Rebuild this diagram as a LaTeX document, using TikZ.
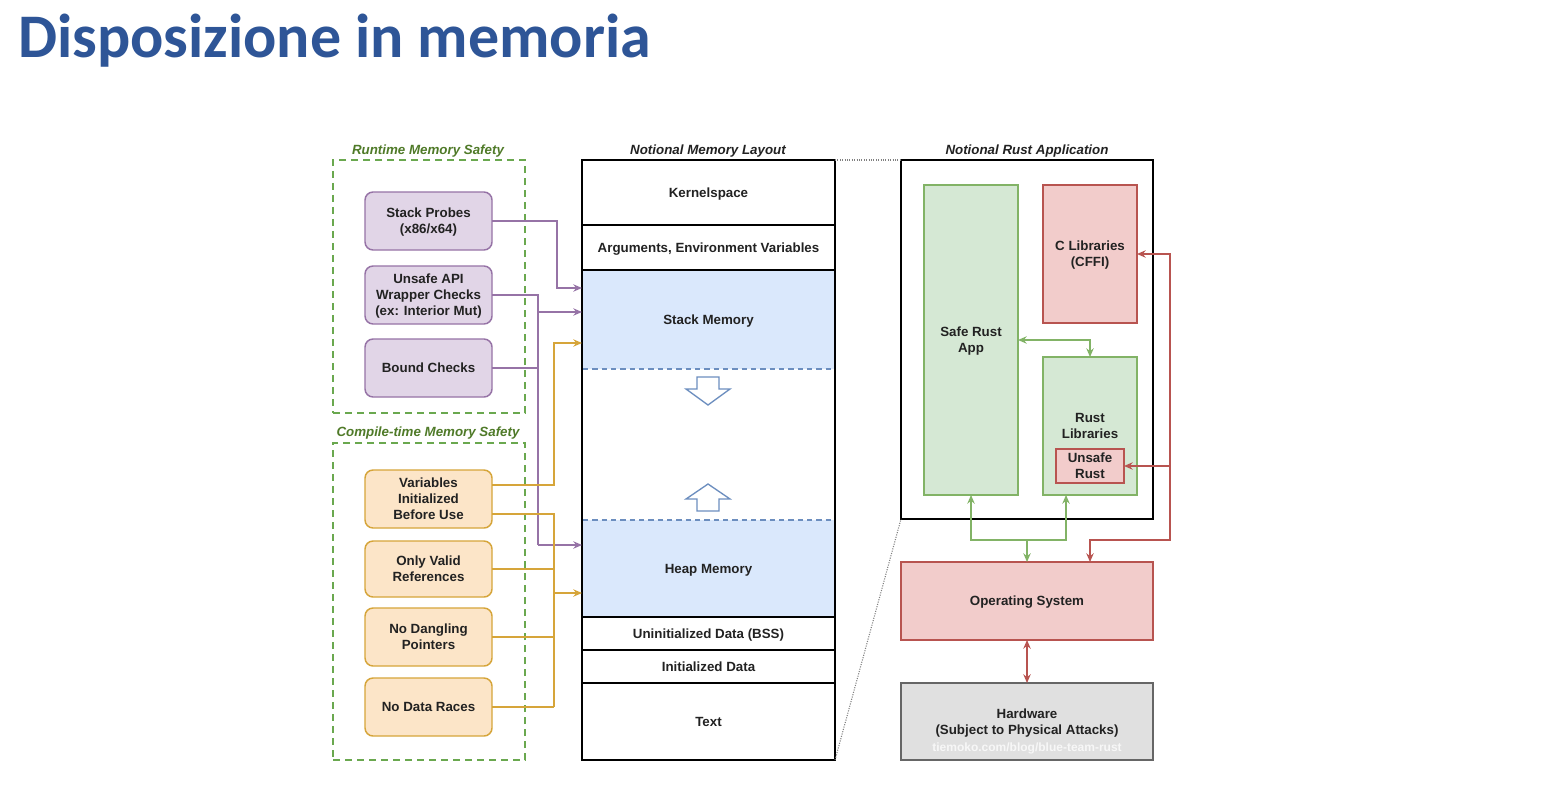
\documentclass[tikz,border=0pt]{standalone}
\usepackage{fontspec}
\setmainfont{Liberation Sans}
\newfontfamily\titlefont{Carlito}
\usetikzlibrary{arrows.meta}
\definecolor{titleblue}{HTML}{2E5597}
\definecolor{purfill}{HTML}{E1D5E7}
\definecolor{purline}{HTML}{9673A6}
\definecolor{orfill}{HTML}{FCE5C8}
\definecolor{orline}{HTML}{D6A53A}
\definecolor{grfill}{HTML}{D5E8D4}
\definecolor{grline}{HTML}{82B366}
\definecolor{rdfill}{HTML}{F2CCCB}
\definecolor{rdline}{HTML}{B85450}
\definecolor{blfill}{HTML}{DAE8FC}
\definecolor{blline}{HTML}{6C8EBF}
\definecolor{dashgreen}{HTML}{6AA84F}
\definecolor{labgreen}{HTML}{4F7A28}
\definecolor{hwfill}{HTML}{E0E0E0}
\definecolor{hwline}{HTML}{666666}
\definecolor{txt}{HTML}{222222}
\tikzset{
  every node/.style={inner sep=0pt, outer sep=0pt},
  sz/.style 2 args={minimum width={#1*0.75pt}, minimum height={#2*0.75pt}},
  body/.style={font=\bfseries\fontsize{10}{12}\selectfont, text=txt, align=center, text depth=0pt},
  pbox/.style={body, fill=purfill, draw=purline, line width=1.1pt, rounded corners=6pt},
  obox/.style={body, fill=orfill, draw=orline, line width=1.1pt, rounded corners=6pt},
  gbox/.style={body, fill=grfill, draw=grline, line width=1.1pt},
  rbox/.style={body, fill=rdfill, draw=rdline, line width=1.1pt},
  membox/.style={body, draw=black, line width=1.3pt},
  memfill/.style={body, fill=blfill},
  safebox/.style={draw=dashgreen, line width=1.3pt, dash pattern=on 5pt off 4pt},
  grouplab/.style={font=\bfseries\itshape\fontsize{10}{12}\selectfont},
  tip/.style={-{Stealth[length=6.5pt,width=5.5pt]}},
  btip/.style={{Stealth[length=6.5pt,width=5.5pt]}-{Stealth[length=6.5pt,width=5.5pt]}},
  pline/.style={draw=purline, line width=1.2pt},
  oline/.style={draw=orline, line width=1.2pt},
  gline/.style={draw=grline, line width=1.2pt},
  rline/.style={draw=rdline, line width=1.2pt},
}
\begin{document}
\begin{tikzpicture}[x=0.75pt, y=-0.75pt]
\useasboundingbox[fill=white] (0,0) rectangle (1548,788);

% title
\node[anchor=base west, font=\titlefont\bfseries\fontsize{46.5}{54}\selectfont, text=titleblue] (title) at (18,58) {Disposizione in memoria};

% ---------- left groups ----------
\node[safebox, sz={192}{253}] (rt) at (429,286.5) {};
\node[grouplab, text=labgreen] (rtlab) at (428,151) {Runtime Memory Safety};
\node[safebox, sz={192}{317}] (ct) at (429,601.5) {};
\node[grouplab, text=labgreen] (ctlab) at (428,433) {Compile-time Memory Safety};

\node[pbox, sz={127}{58}] (sp) at (428.5,221) {Stack Probes\\(x86/x64)};
\node[pbox, sz={127}{58}] (ua) at (428.5,295) {Unsafe API\\Wrapper Checks\\(ex: Interior Mut)};
\node[pbox, sz={127}{58}] (bc) at (428.5,368) {Bound Checks};

\node[obox, sz={127}{58}] (vi) at (428.5,499) {Variables\\Initialized\\Before Use};
\node[obox, sz={127}{56}] (ov) at (428.5,569) {Only Valid\\References};
\node[obox, sz={127}{58}] (nd) at (428.5,637) {No Dangling\\Pointers};
\node[obox, sz={127}{58}] (nr) at (428.5,707) {No Data Races};

% ---------- memory layout ----------
\node[grouplab, text=txt] (memlab) at (708,151) {Notional Memory Layout};
\node[memfill, sz={253}{99}] (stack) at (708.5,319.5) {Stack Memory};
\node[memfill, sz={253}{97}] (heap) at (708.5,568.5) {Heap Memory};
\node[membox, sz={253}{65}] (ks) at (708.5,192.5) {Kernelspace};
\node[membox, sz={253}{45}] (args) at (708.5,247.5) {Arguments, Environment Variables};
\node[membox, sz={253}{33}] (bss) at (708.5,633.5) {Uninitialized Data (BSS)};
\node[membox, sz={253}{33}] (init) at (708.5,666.5) {Initialized Data};
\node[membox, sz={253}{77}] (text) at (708.5,721.5) {Text};
\node[draw=black, line width=1.3pt, sz={253}{600}] (mem) at (708.5,460) {};
\draw[blline, line width=1pt, dash pattern=on 4pt off 3pt] (583,369) -- (834,369);
\draw[blline, line width=1pt, dash pattern=on 4pt off 3pt] (583,520) -- (834,520);
% growth arrows
\draw[blline, line width=1pt, fill=white] (697,377) -- (719,377) -- (719,389) -- (730,389) -- (708,405) -- (686,389) -- (697,389) -- cycle;
\draw[blline, line width=1pt, fill=white] (697,511) -- (719,511) -- (719,499) -- (730,499) -- (708,484) -- (686,499) -- (697,499) -- cycle;

% ---------- connectors left ----------
\draw[pline, tip] (sp.east) -| (557,288) -- (stack.west |- 0,288);
\draw[pline] (ua.east) -| (538,545);
\draw[pline] (bc.east) -- (538,368);
\draw[pline, tip] (538,312) -- (stack.west |- 0,312);
\draw[pline, tip] (538,545) -- (heap.west |- 0,545);

\draw[oline, tip] (vi.east |- 0,485) -| (554,343) -- (stack.west |- 0,343);
\draw[oline] (vi.east |- 0,514) -| (554,707);
\draw[oline] (ov.east) -- (554,569);
\draw[oline] (nd.east) -- (554,637);
\draw[oline] (nr.east) -- (554,707);
\draw[oline, tip] (554,593) -- (heap.west |- 0,593);

% ---------- right side ----------
\node[grouplab, text=txt] (applab) at (1027,151) {Notional Rust Application};
\node[draw=black, line width=1.7pt, sz={252}{359}] (app) at (1027,339.5) {};
\node[gbox, sz={94}{310}] (sra) at (971,340) {Safe Rust\\App};
\node[rbox, sz={94}{138}] (cl) at (1090,254) {C Libraries\\(CFFI)};
\node[gbox, sz={94}{138}] (rl) at (1090,426) {};
\node[body] (rltext) at (1090,426) {Rust\\Libraries};
\node[rbox, sz={68}{34}] (ur) at (1090,466) {Unsafe\\Rust};

\node[rbox, sz={252}{78}] (os) at (1027,601) {Operating System};
\node[body, fill=hwfill, draw=hwline, line width=1.4pt, sz={252}{77}] (hw) at (1027,721.5) {};
\node[body] (hwtext) at (1027,722) {Hardware\\(Subject to Physical Attacks)};
\node[font=\bfseries\fontsize{9}{10}\selectfont, text=white, opacity=0.75] (wm) at (1027,748) {tiemoko.com/blog/blue-team-rust};

\draw[densely dotted, gray, line width=0.8pt] (mem.north east) -- (app.north west);
\draw[densely dotted, gray, line width=0.8pt] (mem.south east) -- (app.south west);

\draw[gline, btip] (sra.east) -| (rl.north);
\draw[gline, btip] (sra.south) |- (1066,540) -- (rl.south -| 1066,0);
\draw[gline, tip] (1027,540) -- (os.north);

\draw[rline, btip] (cl.east) -- (1170,254) |- (1090,540) -- (os.north -| 1090,0);
\draw[rline, tip] (1170,466) -- (ur.east);
\draw[rline, btip] (os.south) -- (hw.north);
\end{tikzpicture}
\end{document}
